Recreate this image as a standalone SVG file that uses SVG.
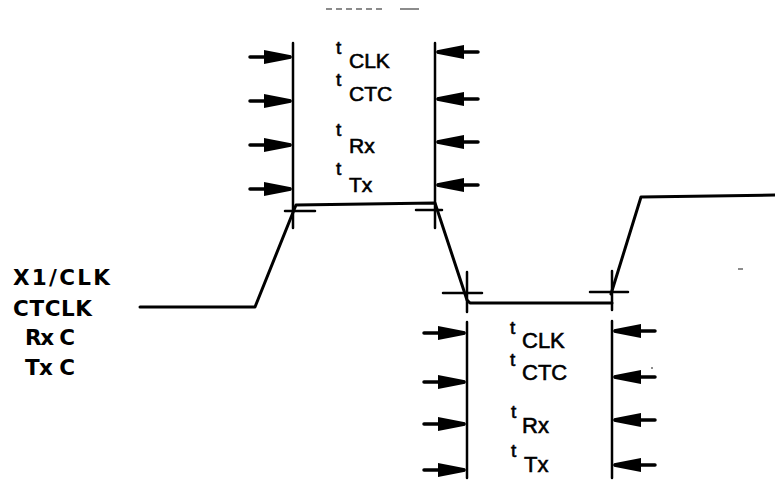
<svg xmlns="http://www.w3.org/2000/svg" width="775" height="480" viewBox="0 0 775 480">
<style>
.ln{stroke:#000;fill:none;stroke-linecap:round;stroke-linejoin:round}
.wave{stroke-width:3}
.vl{stroke-width:2.5}
.tk{stroke-width:2.5}
.lab{font-family:"DejaVu Sans","Liberation Sans",Arial,sans-serif;font-weight:bold;font-size:21.5px;fill:#000}
.t{font-family:"Liberation Sans",Arial,sans-serif;font-size:19px;fill:#000;stroke:#000;stroke-width:0.6}
.s{font-family:"Liberation Sans",Arial,sans-serif;font-size:21px;fill:#000;stroke:#000;stroke-width:0.6}
.s2{font-size:22px}
.noise{stroke:#000;stroke-width:1.5;opacity:0.6}
</style>
<defs>
<g id="arr">
<line x1="-42" y1="0" x2="-26" y2="0" stroke="#000" stroke-width="3.5" stroke-linecap="round"/>
<path d="M-28,-7 L-1,-1.8 L0,0 L-1,1.8 L-28,7 Z" fill="#000"/>
</g>
</defs>
<rect width="775" height="480" fill="#fff"/>

<g id="scan-marks">
<line class="noise" x1="326" y1="9" x2="384" y2="9" stroke-dasharray="6 4"/>
<line class="noise" x1="400" y1="9" x2="419" y2="9"/>
<line class="noise" x1="738" y1="269" x2="743" y2="269"/>
<circle cx="652" cy="368" r="1" fill="#000" opacity="0.6"/>
</g>

<g id="signal-labels">
<text class="lab" x="13" y="285" textLength="97" lengthAdjust="spacing">X1/CLK</text>
<text class="lab" x="13" y="316" textLength="79" lengthAdjust="spacing">CTCLK</text>
<text class="lab" x="25" y="345" textLength="50" lengthAdjust="spacing">Rx C</text>
<text class="lab" x="25" y="375" textLength="50" lengthAdjust="spacing">Tx C</text>
</g>

<g id="window-high">
<line class="ln vl" x1="293" y1="43" x2="293" y2="228"/>
<line class="ln vl" x1="435" y1="43" x2="435" y2="228"/>
<use href="#arr" x="292" y="57"/>
<use href="#arr" x="292" y="101"/>
<use href="#arr" x="292" y="145"/>
<use href="#arr" x="292" y="189"/>
<use href="#arr" transform="translate(436,52) scale(-1,1)"/>
<use href="#arr" transform="translate(436,99) scale(-1,1)"/>
<use href="#arr" transform="translate(436,142) scale(-1,1)"/>
<use href="#arr" transform="translate(436,185) scale(-1,1)"/>
<text class="t" x="336" y="54">t</text><text class="s" x="349" y="68">CLK</text>
<text class="t" x="336" y="86">t</text><text class="s" x="349" y="101">CTC</text>
<text class="t" x="336" y="136">t</text><text class="s" x="349" y="153">Rx</text>
<text class="t" x="336" y="175">t</text><text class="s" x="349" y="192">Tx</text>
</g>

<g id="window-low">
<line class="ln vl" x1="467" y1="322" x2="467" y2="478"/>
<line class="ln vl" x1="612" y1="321" x2="612" y2="478"/>
<use href="#arr" x="466" y="333"/>
<use href="#arr" x="466" y="382"/>
<use href="#arr" x="466" y="424"/>
<use href="#arr" x="466" y="470"/>
<use href="#arr" transform="translate(613,331) scale(-1,1)"/>
<use href="#arr" transform="translate(613,377) scale(-1,1)"/>
<use href="#arr" transform="translate(613,420) scale(-1,1)"/>
<use href="#arr" transform="translate(613,465) scale(-1,1)"/>
<text class="t" x="510" y="334">t</text><text class="s s2" x="522" y="348">CLK</text>
<text class="t" x="510" y="366">t</text><text class="s s2" x="522" y="380">CTC</text>
<text class="t" x="511" y="418">t</text><text class="s s2" x="522" y="433">Rx</text>
<text class="t" x="511" y="457">t</text><text class="s s2" x="524" y="472">Tx</text>
</g>

<g id="connectors">
<path class="ln wave" d="M140,307 L255,307 L296,205 L435,203 L467,300 L470,303 L612,303"/>
<path class="ln wave" d="M611,294 L641,197 L775,195"/>
<line class="ln tk" x1="285" y1="211" x2="315" y2="211"/>
<line class="ln tk" x1="416" y1="210" x2="442" y2="210"/>
<line class="ln vl" x1="467" y1="272" x2="467" y2="312"/>
<line class="ln tk" x1="443" y1="293" x2="482" y2="293"/>
<line class="ln vl" x1="612" y1="271" x2="612" y2="310"/>
<line class="ln tk" x1="590" y1="292" x2="628" y2="292"/>
</g>
</svg>
